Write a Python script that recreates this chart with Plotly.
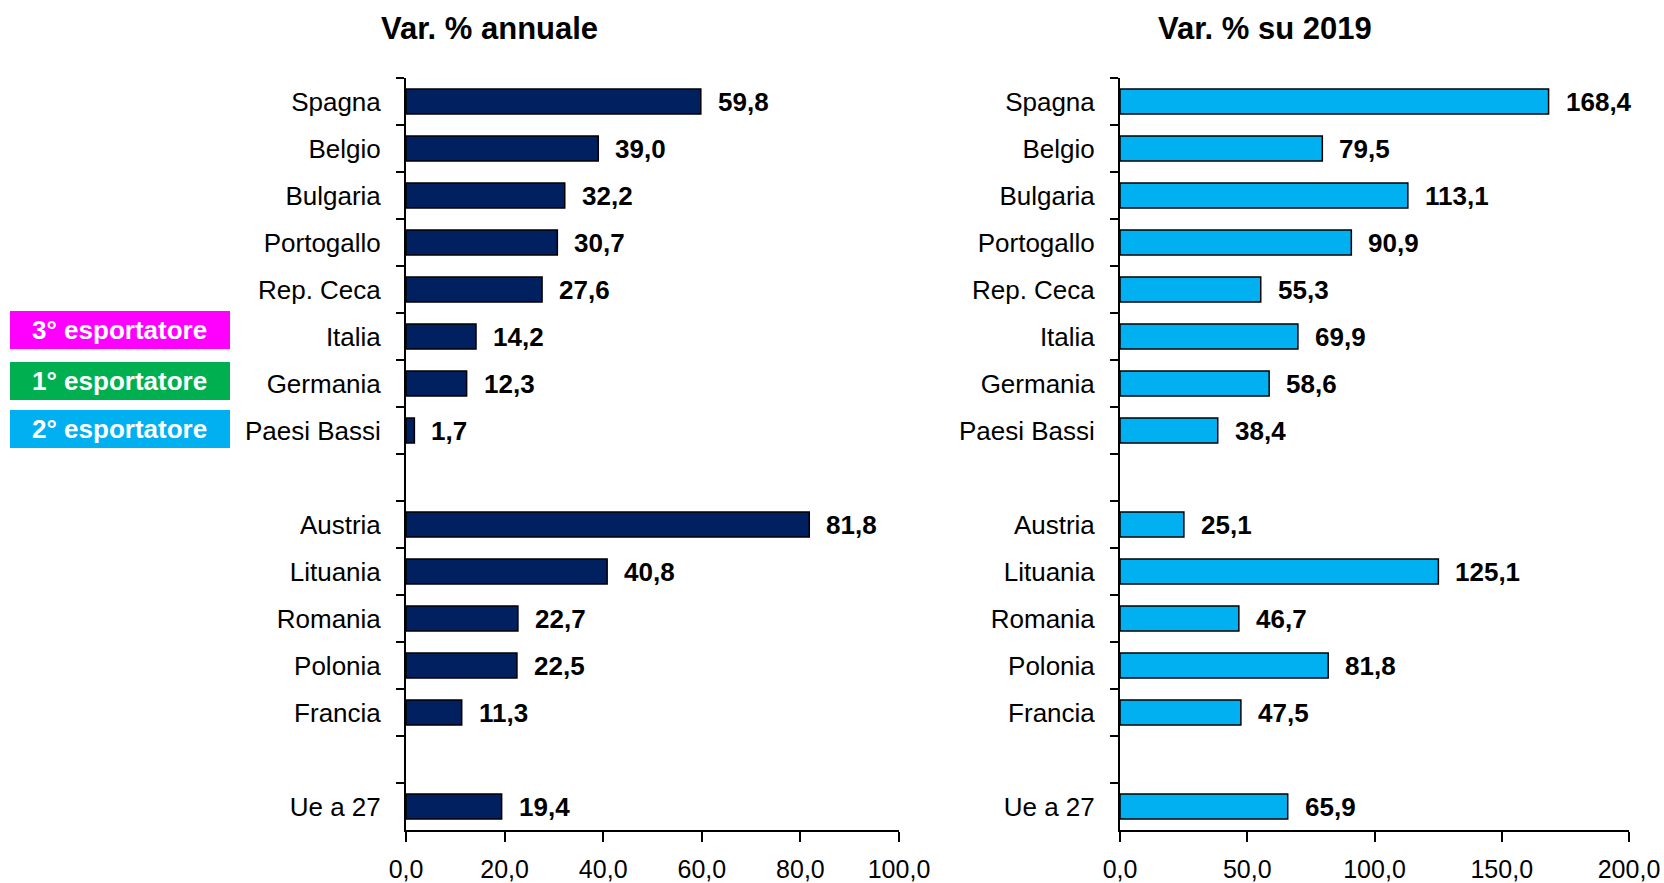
import plotly.graph_objects as go
from plotly.subplots import make_subplots

categories = ["Spagna", "Belgio", "Bulgaria", "Portogallo", "Rep. Ceca", "Italia",
              "Germania", "Paesi Bassi", " ", "Austria", "Lituania", "Romania",
              "Polonia", "Francia", "  ", "Ue a 27"]
var_annuale = [59.8, 39.0, 32.2, 30.7, 27.6, 14.2, 12.3, 1.7, None,
               81.8, 40.8, 22.7, 22.5, 11.3, None, 19.4]
var_2019 = [168.4, 79.5, 113.1, 90.9, 55.3, 69.9, 58.6, 38.4, None,
            25.1, 125.1, 46.7, 81.8, 47.5, None, 65.9]
titles = ["Var. % annuale", "Var. % su 2019"]
legend_labels = ["3° esportatore", "1° esportatore", "2° esportatore"]
legend_colors = ["#FF00FF", "#00B050", "#00B0F0"]

FONT = "Liberation Sans, Arial, sans-serif"
W, H = 1664, 883
T, B = 78, 53
PH = H - T - B

fig = make_subplots(rows=1, cols=2)


def fmt(v):
    return f"{v:.1f}".replace(".", ",")


for col, (vals, color, xref, yref) in enumerate(
        [(var_annuale, "#002060", "x", "y"), (var_2019, "#00B0F0", "x2", "y2")], start=1):
    cats = [c for c, v in zip(categories, vals) if v is not None]
    vv = [v for v in vals if v is not None]
    fig.add_trace(go.Bar(x=vv, y=cats, orientation="h", width=0.53,
                         marker=dict(color=color, line=dict(color="black", width=1.5)),
                         showlegend=False, hoverinfo="skip"), row=1, col=col)
    for c, v in zip(cats, vv):
        fig.add_annotation(x=v, y=c, xref=xref, yref=yref,
                           text=f"<b>{fmt(v)}</b>", showarrow=False,
                           xanchor="left", xshift=15,
                           font=dict(family=FONT, size=26, color="black"))

fig.update_yaxes(type="category", categoryorder="array", categoryarray=categories,
                 autorange="reversed", tickson="boundaries", ticks="outside",
                 ticklen=8, tickwidth=2, tickcolor="black", showline=True,
                 linecolor="black", linewidth=2, showgrid=False, automargin=False,
                 ticklabelstandoff=18,
                 tickfont=dict(family=FONT, size=26, color="black"), domain=[0, 1])

fig.update_xaxes(ticks="outside", ticklen=10, tickwidth=2, tickcolor="black",
                 showline=True, linecolor="black", linewidth=2, showgrid=False,
                 zeroline=False, tickformat=".1f", automargin=False,
                 ticklabelstandoff=6,
                 tickfont=dict(family=FONT, size=25, color="black"))
fig.update_xaxes(range=[0, 100], dtick=20, domain=[406 / W, 899 / W], row=1, col=1)
fig.update_xaxes(range=[0, 200], dtick=50, domain=[1120 / W, 1629 / W], row=1, col=2)

for t, x in zip(titles, [489 / W, 1265 / W]):
    fig.add_annotation(x=x, y=(H - B - 28) / PH, xref="paper", yref="paper",
                       text=f"<b>{t}</b>", showarrow=False, xanchor="center", yanchor="middle",
                       font=dict(family=FONT, size=31, color="black"))

box_px = [(311, 349), (362, 400), (410, 448)]
for lab, colr, (top, bot) in zip(legend_labels, legend_colors, box_px):
    y0 = (H - B - bot) / PH
    y1 = (H - B - top) / PH
    fig.add_shape(type="rect", xref="paper", yref="paper", x0=10 / W, x1=230 / W,
                  y0=y0, y1=y1, fillcolor=colr, line=dict(width=0), layer="above")
    fig.add_annotation(x=120 / W, y=(y0 + y1) / 2, xref="paper", yref="paper",
                       text=f"<b>{lab}</b>", showarrow=False, xanchor="center", yanchor="middle",
                       font=dict(family=FONT, size=26, color="white"))

fig.update_layout(width=W, height=H, margin=dict(l=0, r=0, t=T, b=B, autoexpand=False),
                  plot_bgcolor="white", paper_bgcolor="white", separators=",.",
                  font=dict(family=FONT, color="black"))

fig.write_html("out.html", config={"displayModeBar": False},
               post_script="document.body.style.margin='0';")
